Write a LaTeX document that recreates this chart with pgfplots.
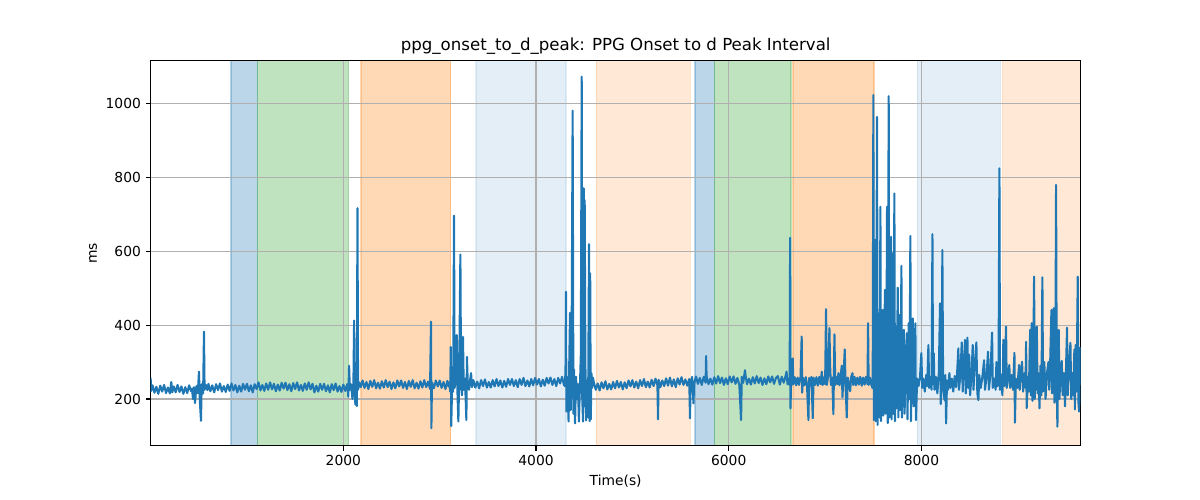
\documentclass[border=0pt]{standalone}
\usepackage{fontspec}
\setmainfont{DejaVu Sans}
\usepackage{pgfplots}
\pgfplotsset{compat=1.18}
\definecolor{tabblue}{HTML}{1F77B4}
\definecolor{taborange}{HTML}{FF7F0E}
\definecolor{tabgreen}{HTML}{2CA02C}
\definecolor{gridgray}{HTML}{B0B0B0}
\begin{document}
\begin{tikzpicture}
\begin{axis}[
  set layers,
  at={(0,0)}, anchor=south west,
  scale only axis, width=672.2pt, height=278.2pt,
  xmin=0, xmax=9653, ymin=73.7, ymax=1115,
  xtick={2000,4000,6000,8000}, ytick={200,400,600,800,1000},
  tick pos=left, tick align=outside, major tick length=3.5pt,
  tick style={line width=0.8pt, black},
  axis line style={line width=0.8pt, black},
  grid=major, grid style={line width=0.8pt, gridgray},
  tick label style={font=\fontsize{10}{12}\selectfont},
  every axis title shift=0pt,
  title={ppg\_onset\_to\_d\_peak: PPG Onset to d Peak Interval},
  title style={font=\fontsize{12}{14}\selectfont, at={(axis description cs:0.5,1.038)}, anchor=center, yshift=0pt, inner sep=0pt},
  xlabel={Time(s)}, ylabel={ms},
  xlabel style={font=\fontsize{10}{12}\selectfont, at={(axis description cs:0.5,-0.0917)}, anchor=center, inner sep=0pt},
  ylabel style={font=\fontsize{10}{12}\selectfont, at={(axis description cs:-0.0619,0.5)}, anchor=center, inner sep=0pt},
  /pgf/number format/1000 sep={},
  /pgf/number format/assume math mode=true,
]
% shaded spans
\addplot[on layer=axis background, fill=tabblue, fill opacity=0.3, draw=tabblue, draw opacity=0.3, line width=0.8pt] coordinates {(834,73.7) (834,1115) (1107,1115) (1107,73.7) (834,73.7)};
\addplot[on layer=axis background, fill=tabgreen, fill opacity=0.3, draw=tabgreen, draw opacity=0.3, line width=0.8pt] coordinates {(1107,73.7) (1107,1115) (2056,1115) (2056,73.7) (1107,73.7)};
\addplot[on layer=axis background, fill=taborange, fill opacity=0.3, draw=taborange, draw opacity=0.3, line width=0.8pt] coordinates {(2184,73.7) (2184,1115) (3115,1115) (3115,73.7) (2184,73.7)};
\addplot[on layer=axis background, fill=tabblue, fill opacity=0.12, draw=tabblue, draw opacity=0.12, line width=0.8pt] coordinates {(3377,73.7) (3377,1115) (4311,1115) (4311,73.7) (3377,73.7)};
\addplot[on layer=axis background, fill=taborange, fill opacity=0.17, draw=taborange, draw opacity=0.17, line width=0.8pt] coordinates {(4623,73.7) (4623,1115) (5602,1115) (5602,73.7) (4623,73.7)};
\addplot[on layer=axis background, fill=tabblue, fill opacity=0.3, draw=tabblue, draw opacity=0.3, line width=0.8pt] coordinates {(5650,73.7) (5650,1115) (5850,1115) (5850,73.7) (5650,73.7)};
\addplot[on layer=axis background, fill=tabgreen, fill opacity=0.3, draw=tabgreen, draw opacity=0.3, line width=0.8pt] coordinates {(5850,73.7) (5850,1115) (6646,1115) (6646,73.7) (5850,73.7)};
\addplot[on layer=axis background, fill=taborange, fill opacity=0.3, draw=taborange, draw opacity=0.3, line width=0.8pt] coordinates {(6667,73.7) (6667,1115) (7508,1115) (7508,73.7) (6667,73.7)};
\addplot[on layer=axis background, fill=tabblue, fill opacity=0.12, draw=tabblue, draw opacity=0.12, line width=0.8pt] coordinates {(7955,73.7) (7955,1115) (8818,1115) (8818,73.7) (7955,73.7)};
\addplot[on layer=axis background, fill=taborange, fill opacity=0.17, draw=taborange, draw opacity=0.17, line width=0.8pt] coordinates {(8840,73.7) (8840,1115) (9653,1115) (9653,73.7) (8840,73.7)};
% signal
\addplot[tabblue, line width=1.5pt, line join=round, no marks] coordinates {
(0,258)(6,222)(20,237)(40,217)(60,233)(80,214)(100,236)(120,220)(140,238)(160,216)(180,231)(200,215)(215,246)(225,218)(240,234)(260,218)(280,238)(300,219)(320,234)(340,214)(360,232)(380,216)(400,237)(420,221)
(430,228)(440,200)(450,232)(461,189)(475,235)(490,216)(502,274)(510,200)(523,141)(530,240)(545,215)(554,382)(560,225)(575,238)(590,224)
(600,241)(620,221)(640,237)(660,218)(680,240)(700,224)(720,242)(740,220)(760,235)(780,219)(800,239)(820,222)(840,242)(860,223)(880,238)(900,218)(920,236)(940,220)(960,241)(980,225)(1000,241)(1020,221)(1040,237)(1060,218)(1080,240)(1100,227)(1120,245)(1140,223)(1160,238)(1180,222)(1200,242)(1220,225)(1240,245)(1260,226)(1280,241)(1300,221)(1320,239)(1340,223)(1360,244)(1380,228)(1400,244)(1420,224)(1440,240)(1460,221)(1480,243)(1500,227)(1520,245)(1540,223)(1560,238)(1580,222)(1600,242)(1620,225)(1640,245)(1660,226)(1680,241)(1700,218)(1720,236)(1740,220)(1760,241)(1780,225)(1800,241)(1820,221)(1840,237)(1860,218)(1880,240)(1900,224)(1920,242)(1940,220)(1960,235)(1980,219)(2000,239)(2020,222)(2040,240)
(2045,237)(2052,206)(2060,290)(2068,225)(2080,240)(2095,200)(2105,245)(2112,412)(2118,230)(2125,185)(2132,240)(2140,181)(2147,716)(2153,225)(2165,245)(2180,232)
(2200,250)(2220,230)(2240,246)(2260,227)(2280,249)(2300,233)(2320,251)(2340,229)(2360,244)(2380,228)(2400,248)(2420,231)(2440,251)(2460,232)(2480,247)(2500,227)(2520,245)(2540,229)(2560,250)(2580,234)(2600,250)(2620,230)(2640,246)(2660,227)(2680,249)(2700,233)(2720,251)(2740,229)(2760,244)(2780,228)(2800,248)(2820,231)(2840,251)(2860,232)(2880,247)(2900,227)(2910,409)(2914,121)(2920,245)(2940,229)(2960,250)(2980,234)(3000,250)(3020,230)(3040,246)(3060,227)(3080,249)(3095,233)
(3100,245)(3110,220)(3115,341)(3120,127)(3130,245)(3140,220)(3149,696)(3155,230)(3165,250)(3177,373)(3185,215)(3194,139)(3202,250)(3215,591)(3222,235)(3232,210)(3242,368)(3250,225)(3262,255)(3270,200)(3277,143)(3283,314)(3292,240)(3305,225)(3315,250)(3326,270)(3335,232)
(3350,251)(3370,231)(3390,247)(3410,229)(3430,251)(3450,235)(3470,253)(3490,231)(3510,246)(3530,231)(3550,251)(3570,234)(3590,254)(3610,235)(3630,250)(3650,231)(3670,249)(3690,233)(3710,254)(3730,238)(3750,254)(3770,235)(3790,251)(3810,232)(3830,254)(3850,238)(3870,257)(3890,235)(3910,250)(3930,234)(3950,254)(3970,237)(3990,257)(4010,239)(4030,254)(4050,234)(4070,252)(4090,236)(4110,257)(4130,242)(4150,258)(4170,238)(4190,254)(4210,235)(4230,257)(4250,242)(4270,260)(4290,238)
(4300,235)(4306,280)(4311,490)(4315,166)(4322,260)(4330,200)(4338,139)(4345,300)(4353,433)(4360,170)(4368,270)(4380,980)(4388,160)(4395,280)(4405,134)(4415,260)(4425,200)(4435,240)(4445,139)(4455,230)(4465,320)(4474,1072)(4480,200)(4488,139)(4495,770)(4500,180)(4505,738)(4512,300)(4520,142)(4530,250)(4540,150)(4550,619)(4556,140)(4562,540)(4568,145)(4575,270)(4582,230)(4590,258)
(4600,245)(4620,225)(4640,242)(4660,223)(4680,245)(4700,229)(4720,248)(4740,226)(4760,241)(4780,226)(4800,246)(4820,229)(4840,249)(4860,231)(4880,246)(4900,226)(4920,245)(4940,229)(4960,250)(4980,234)(5000,251)(5020,231)(5040,247)(5060,229)(5080,251)(5100,235)(5120,254)(5140,232)(5160,247)(5180,231)(5200,252)(5220,235)(5240,255)(5260,237)(5266,145)(5272,252)(5290,232)(5310,250)(5330,235)(5350,256)(5370,236)(5390,258)(5410,234)(5430,253)(5450,232)(5470,256)(5490,239)(5510,259)(5530,238)(5550,253)(5570,236)(5590,254)(5598,148)(5604,237)(5620,260)(5634,188)(5640,240)
(5660,261)(5680,241)(5700,257)(5720,238)(5740,260)(5760,244)(5765,316)(5770,262)(5790,240)(5810,255)(5830,239)(5850,259)(5870,242)(5890,262)(5910,243)(5930,258)(5950,238)(5970,256)(5990,240)(6010,261)(6030,245)(6050,261)(6070,241)(6090,257)(6110,238)(6128,143)(6135,260)(6150,244)(6169,278)(6175,262)(6190,240)(6210,255)(6230,239)(6250,259)(6270,242)(6290,262)(6310,243)(6330,258)(6350,238)(6370,256)(6390,240)(6410,261)(6430,245)(6450,261)(6470,241)(6490,257)(6510,262)(6530,239)(6550,260)(6570,244)(6590,262)(6600,274)(6610,240)(6625,255)
(6632,237)(6637,636)(6641,175)(6648,258)(6656,238)(6664,310)(6670,240)(6685,259)(6700,237)(6715,258)(6730,238)(6745,260)(6757,369)(6762,217)(6770,258)(6785,237)(6800,259)(6812,239)(6827,143)(6835,257)(6845,237)(6858,260)(6872,148)(6880,258)(6895,238)(6910,259)(6925,236)(6940,260)(6955,240)(6965,274)(6975,238)(6990,259)(7000,240)(7010,443)(7018,238)(7030,259)(7045,392)(7052,290)(7060,238)(7075,258)(7086,159)(7097,375)(7105,238)(7120,259)(7130,240)(7138,270)(7150,237)(7160,258)(7173,290)(7180,205)(7190,256)(7204,334)(7212,240)(7225,150)(7235,258)(7248,238)(7260,221)(7270,259)(7284,270)(7292,238)(7305,260)(7320,237)(7335,258)(7350,239)(7365,260)(7380,236)(7395,258)(7410,239)(7425,260)(7440,240)(7446,405)(7452,238)(7465,258)(7480,238)(7494,229)
(7501,1022)(7506,143)(7512,300)(7518,630)(7524,140)(7530,280)(7539,963)(7545,130)(7552,350)(7560,432)(7566,150)(7574,720)(7580,140)(7588,300)(7598,441)(7604,155)(7612,350)(7622,495)(7628,160)(7636,300)(7643,720)(7650,135)(7660,1019)(7666,150)(7675,330)(7685,639)(7690,145)(7702,594)(7708,160)(7719,756)(7725,140)(7736,396)(7742,175)(7754,501)(7760,150)(7771,427)(7778,170)(7785,300)(7792,560)(7798,150)(7808,280)(7817,387)(7825,160)(7835,300)(7848,378)(7855,145)(7868,405)(7875,200)(7885,641)(7891,140)(7900,300)(7910,418)(7918,180)(7925,250)(7937,405)(7943,143)(7955,255)
(7970,235)(7985,260)(7999,324)(8008,230)(8020,255)(8035,220)(8050,265)(8060,235)(8072,346)(8080,230)(8095,260)(8105,225)(8114,646)(8120,240)(8128,324)(8135,225)(8150,260)(8165,215)(8180,270)(8193,459)(8200,186)(8210,260)(8217,603)(8225,230)(8240,197)(8248,265)(8256,134)(8265,250)(8275,225)(8290,270)(8300,230)(8315,255)(8330,220)(8345,262)(8360,232)(8372,280)(8383,337)(8390,225)(8405,270)(8418,353)(8428,220)(8440,290)(8452,360)(8460,215)(8470,300)(8477,366)(8485,230)(8495,320)(8505,210)(8520,270)(8532,346)(8540,225)(8555,300)(8570,353)(8580,215)(8591,197)(8600,265)(8615,230)(8630,255)(8650,305)(8660,225)(8675,260)(8691,328)(8700,225)(8715,265)(8733,380)(8740,230)(8755,255)(8770,225)(8778,300)(8790,235)(8800,260)(8809,824)(8815,225)(8825,265)(8840,210)
(8850,360)(8860,235)(8878,396)(8885,230)(8898,260)(8912,292)(8920,230)(8935,265)(8950,225)(8965,325)(8970,136)(8980,255)(8995,230)(9013,292)(9020,225)(9030,265)(9044,301)(9055,220)(9070,270)(9080,230)(9086,355)(9092,175)(9105,260)(9115,220)(9128,387)(9135,210)(9145,405)(9152,195)(9160,300)(9169,531)(9175,200)(9185,280)(9197,396)(9205,215)(9215,270)(9225,175)(9235,290)(9245,210)(9255,529)(9262,220)(9275,300)(9288,200)(9300,265)(9318,300)(9325,225)(9335,290)(9349,441)(9355,215)(9365,300)(9373,446)(9380,190)(9390,300)(9397,779)(9404,230)(9411,125)(9418,290)(9425,387)(9432,200)(9445,280)(9456,303)(9465,210)(9478,270)(9490,180)(9500,280)(9511,393)(9518,210)(9530,275)(9546,352)(9555,200)(9565,270)(9575,210)(9587,334)(9592,172)(9601,346)(9610,220)(9622,531)(9628,195)(9636,166)(9643,300)(9650,340)
};
\end{axis}
\pgfresetboundingbox
\path[use as bounding box] (-108.84pt,-39.24pt) rectangle (758.4pt,322.1pt);
\end{tikzpicture}
\end{document}
